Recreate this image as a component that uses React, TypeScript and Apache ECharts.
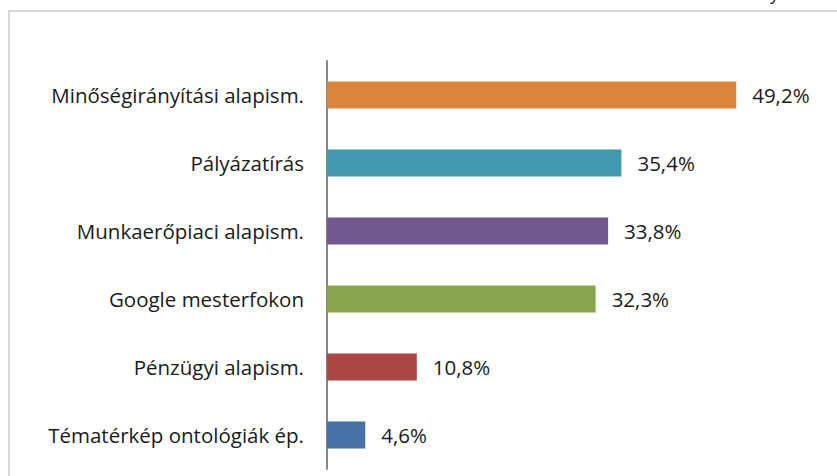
import React, { useEffect, useRef } from "react";
import * as echarts from "echarts";

const categories = [
  "Minőségirányítási alapism.",
  "Pályázatírás",
  "Munkaerőpiaci alapism.",
  "Google mesterfokon",
  "Pénzügyi alapism.",
  "Tématérkép ontológiák ép.",
];
const values = [49.2, 35.4, 33.8, 32.3, 10.8, 4.6];
const colors = ["#DB843D", "#4198AF", "#71588F", "#89A54E", "#AA4643", "#4572A7"];

const FONT = "'Open Sans', sans-serif";

export default function App() {
  const ref = useRef<HTMLDivElement>(null);
  useEffect(() => {
    if (!ref.current) return;
    const chart = echarts.init(ref.current, undefined, { renderer: "svg" });
    chart.setOption({
      animation: false,
      backgroundColor: "#ffffff",
      graphic: [
        {
          type: "rect",
          shape: { x: 9, y: 11, width: 900, height: 500 },
          style: { fill: "none", stroke: "#d9d9d9", lineWidth: 2 },
        },
        {
          type: "text",
          x: 770,
          y: -16,
          style: { text: "y", fontSize: 18, fontFamily: FONT, fill: "#1a1a1a" },
        },
      ],
      grid: { left: 327, top: 61, height: 408, right: 11, containLabel: false },
      xAxis: {
        type: "value",
        min: 0,
        max: 60,
        show: false,
      },
      yAxis: {
        type: "category",
        inverse: true,
        data: categories,
        axisLine: { show: true, lineStyle: { color: "#868686", width: 2 } },
        axisTick: { show: false },
        axisLabel: {
          margin: 23,
          fontSize: 20.5,
          fontFamily: FONT,
          color: "#1a1a1a",
        },
      },
      series: [
        {
          type: "bar",
          data: values.map((v, i) => ({ value: v, itemStyle: { color: colors[i] } })),
          barWidth: 27,
          label: {
            show: true,
            position: "right",
            distance: 16,
            fontSize: 20.5,
            fontFamily: FONT,
            color: "#1a1a1a",
            formatter: (p: any) => p.value.toFixed(1).replace(".", ",") + "%",
          },
        },
      ],
    });
    return () => chart.dispose();
  }, []);
  return (
    <div
      ref={ref}
      style={{ position: "absolute", left: 0, top: 0, width: 837, height: 476 }}
    />
  );
}
